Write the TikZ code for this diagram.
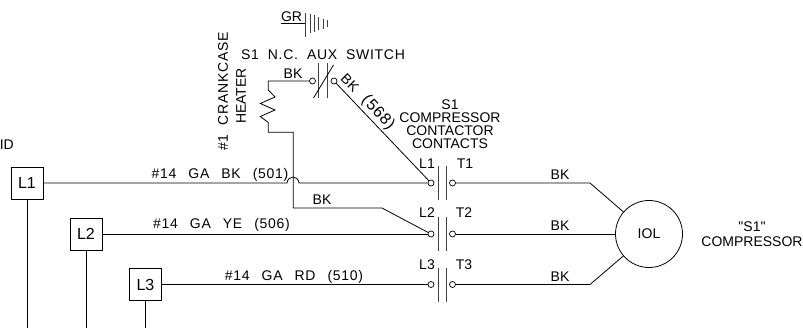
\documentclass[tikz,border=0pt]{standalone}
\usepackage{fontspec}
\setmainfont[Ligatures=TeXOff]{Liberation Sans}
\newfontfamily\widefont[LetterSpace=5,Ligatures=TeXOff]{Liberation Sans}
\newcommand{\gap}{\hspace{12pt}}
\newcommand{\sgap}{\hspace{9pt}}
\tikzset{
  wire/.style={line width=0.8pt,line join=miter},
  plate/.style={line width=0.8pt,black!75},
  term/.style={circle,draw,line width=0.7pt,fill=white,inner sep=0pt,minimum size=6pt},
  linebox/.style={draw,line width=0.8pt,minimum size=32pt,inner sep=0pt,font=\fontsize{16}{16}\selectfont},
  lbl/.style={inner sep=0pt,font=\fontsize{14}{14}\selectfont},
  widelbl/.style={inner sep=0pt,font=\fontsize{14}{14}\widefont}
}
\begin{document}
\begin{tikzpicture}[x=1pt,y=-1pt]
    \useasboundingbox (0,0) rectangle (803,328);
    %% line boxes and feeds
    \node[linebox] (boxa) at (27,183) {L1};
    \node[linebox] (boxb) at (86,234) {L2};
    \node[linebox] (boxc) at (145.5,284.5) {L3};
    \coordinate (feeda) at (27,328);
    \coordinate (feedb) at (86,328);
    \coordinate (feedc) at (145.5,328);
    \draw[wire] (boxa) -- (feeda);
    \draw[wire] (boxb) -- (feedb);
    \draw[wire] (boxc) -- (feedc);
    %% contact terminals
    \node[term] (ina) at (431,183) {};
    \node[term] (inb) at (431,234) {};
    \node[term] (inc) at (431,284.5) {};
    \node[term] (outa) at (452.5,183) {};
    \node[term] (outb) at (452.5,234) {};
    \node[term] (outc) at (452.5,284.5) {};
    %% contact plates
    \draw[plate] (438,166) -- (438,200);
    \draw[plate] (446,166) -- (446,200);
    \draw[plate] (438,217) -- (438,251);
    \draw[plate] (446,217) -- (446,251);
    \draw[plate] (438,268) -- (438,302);
    \draw[plate] (446,268) -- (446,302);
    %% motor
    \node[circle,draw,line width=0.8pt,minimum size=67pt,inner sep=0pt,font=\fontsize{14}{14}\selectfont] (iol) at (649,234) {IOL};
    \coordinate (benda) at (590,183);
    \coordinate (bendc) at (590,284.5);
    \draw[wire] (outa) -- (benda) -- (iol);
    \draw[wire] (outb) -- (iol);
    \draw[wire] (outc) -- (bendc) -- (iol);
    %% line wires
    \coordinate (hopa) at (287,183);
    \coordinate (hopb) at (299,183);
    \draw[wire] (boxa) -- (hopa) .. controls (288,175) and (298,175) .. (hopb) -- (ina);
    \draw[wire] (boxb) -- (inb);
    \draw[wire] (boxc) -- (inc);
    %% aux switch and heater
    \node[term] (auxa) at (312.5,81) {};
    \node[term] (auxb) at (334,81) {};
    \draw[plate] (318.7,63) -- (318.7,98);
    \draw[plate] (327.3,63) -- (327.3,98);
    \draw[wire] (313.5,98) -- (333.5,65);
    \coordinate (heatt) at (268.3,81);
    \coordinate (heatb) at (268.3,132.3);
    \coordinate (teea) at (293.3,132.3);
    \coordinate (teeb) at (293.3,208);
    \coordinate (teec) at (382,208);
    \draw[wire] (auxa) -- (heatt) -- (268.3,90) -- (275,97) -- (260.3,103.5) -- (275,110) -- (260.3,116.5) -- (268.3,122.5) -- (heatb) -- (teea) -- (teeb) -- (teec) -- (inb);
    \draw[wire] (auxb) -- (ina);
    %% ground
    \coordinate (gnda) at (281,23.3);
    \coordinate (gndb) at (305.7,23.3);
    \draw[wire] (gnda) -- (gndb);
    \draw[plate] (305.7,12.7) -- (305.7,37.3);
    \draw[plate] (310.5,14) -- (310.5,33);
    \draw[plate] (314.5,15.5) -- (314.5,32);
    \draw[plate] (318.5,17) -- (318.5,30.5);
    \draw[plate] (323,19) -- (323,29);
    \draw[plate] (327,20.5) -- (327,27.5);
    %% labels
    \node[lbl] (gr) at (291.5,16.5) {GR};
    \node[widelbl] (auxt) at (323,55) {S1\sgap N.C.\sgap AUX\sgap SWITCH};
    \node[widelbl,rotate=90] (crank) at (223,91.5) {\#1\sgap CRANKCASE};
    \node[lbl,rotate=90] (heatl) at (241,96) {HEATER};
    \node[lbl] (bkh) at (293,74) {BK};
    \node[lbl,rotate=-45] (bkd) at (350,83) {BK};
    \node[widelbl,rotate=-47,font=\fontsize{16}{16}\widefont] (wired) at (378,113) {(568)};
    \node[lbl] (st) at (450,105) {S1};
    \node[lbl] (sc) at (450,118) {COMPRESSOR};
    \node[lbl] (sd) at (450,131) {CONTACTOR};
    \node[lbl] (se) at (450,144) {CONTACTS};
    \node[lbl] (la) at (427,164) {L1};
    \node[lbl] (ta) at (465,164) {T1};
    \node[lbl] (lb) at (427,213) {L2};
    \node[lbl] (tb) at (464,213) {T2};
    \node[lbl] (lc) at (427,265) {L3};
    \node[lbl] (tc) at (464,265) {T3};
    \node[lbl] (bka) at (560,175) {BK};
    \node[lbl] (bkb) at (560,226) {BK};
    \node[lbl] (bkc) at (560,277) {BK};
    \node[lbl] (bkt) at (322,200) {BK};
    \node[widelbl] (gaa) at (220,175) {\#14\gap GA\gap BK\gap (501)};
    \node[widelbl] (gab) at (221.5,225) {\#14\gap GA\gap YE\gap (506)};
    \node[widelbl] (gac) at (294,276.5) {\#14\gap GA\gap RD\gap (510)};
    \node[lbl] (sq) at (752,227) {"S1"};
    \node[lbl] (comp) at (752,242) {COMPRESSOR};
    \node[lbl,anchor=east] (idl) at (14,145) {ID};
\end{tikzpicture}
\end{document}
